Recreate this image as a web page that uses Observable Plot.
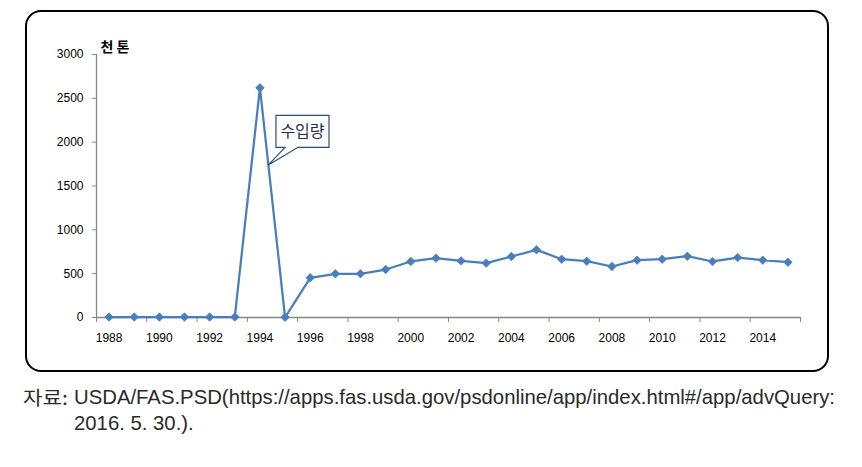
<!DOCTYPE html>
<html>
<head>
<meta charset="utf-8">
<script src="https://cdn.jsdelivr.net/npm/d3@7"></script>
<script src="https://cdn.jsdelivr.net/npm/@observablehq/plot@0.6"></script>
<style>
  html, body { margin: 0; padding: 0; background: #fff; }
  #wrap { position: relative; width: 862px; height: 467px; overflow: hidden; }
  #chart svg { display: block; }
  #frame { position: absolute; left: 25px; top: 10px; width: 800px; height: 358px;
           border: 2px solid #000; border-radius: 16px; pointer-events: none; }
  .cap { position: absolute; white-space: nowrap; transform-origin: 0 50%;
         font: 21px "Liberation Sans", "Noto Sans CJK KR", sans-serif; line-height: 26px; color: #2a2a2a; }
</style>
</head>
<body>
<div id="wrap">
  <div id="chart"></div>
  <div id="frame"></div>
  <div id="capLabel" class="cap" style="left:23px; top:384px; font-family:'Noto Sans CJK KR', sans-serif; font-size:19px;"></div>
  <div id="capLine1" class="cap" style="left:74px; top:384px;"></div>
  <div id="capLine2" class="cap" style="left:74px; top:410px;"></div>
</div>
<script>
const years = [1988,1989,1990,1991,1992,1993,1994,1995,1996,1997,1998,1999,2000,2001,2002,2003,2004,2005,2006,2007,2008,2009,2010,2011,2012,2013,2014,2015];
const imports = [5,5,5,5,5,5,2620,2,453,498,498,547,639,677,646,620,696,772,665,642,582,654,665,699,639,684,654,631];
const yTicks = [0,500,1000,1500,2000,2500,3000];
const xLabelYears = [1988,1990,1992,1994,1996,1998,2000,2002,2004,2006,2008,2010,2012,2014];
const unitLabel = "천 톤";
const seriesLabel = "수입량";
const captionLabel = "자료:";
const captionLine1 = "USDA/FAS.PSD(https://apps.fas.usda.gov/psdonline/app/index.html#/app/advQuery:";
const captionLine2 = "2016. 5. 30.).";

const data = years.map((y, i) => ({year: y, value: imports[i]}));
const xMin = years[0] - 0.5, xMax = years[years.length - 1] + 0.5;
const boundaries = d3.range(xMin, xMax + 0.01, 2);
const color = "#4a7ebb";
const axisGray = "#868686";

const plot = Plot.plot({
  width: 862,
  height: 380,
  marginLeft: 96,
  marginRight: 62,
  marginTop: 54,
  marginBottom: 63,
  style: {fontFamily: "'Liberation Sans', Arial, sans-serif", fontSize: "12px", color: "#000", background: "#fff"},
  x: {type: "linear", domain: [xMin, xMax]},
  y: {domain: [0, 3000]},
  marks: [
    Plot.ruleY([0], {stroke: axisGray, strokeWidth: 1.3}),
    Plot.ruleX([xMin], {stroke: axisGray, strokeWidth: 1.3}),
    Plot.axisY({ticks: yTicks, tickSize: 4, tickPadding: 9, tickFormat: d => String(d), stroke: axisGray, label: null, fill: "#000"}),
    Plot.axisX({ticks: boundaries, tickSize: 5, tickFormat: () => "", stroke: axisGray, label: null}),
    Plot.axisX({ticks: xLabelYears, tickSize: 0, tickPadding: 16, tickFormat: d => String(d), label: null, fill: "#000"}),
    Plot.text([unitLabel], {frameAnchor: "top-left", dx: 4, dy: -12, textAnchor: "start",
      fontWeight: "bold", fontSize: 14, fontFamily: "'Noto Sans CJK KR', sans-serif", fill: "#000"}),
    Plot.line(data, {x: "year", y: "value", stroke: color, strokeWidth: 2.25}),
    Plot.dot(data, {x: "year", y: "value", symbol: "diamond2", r: 3.8, fill: color, stroke: color, strokeWidth: 0.8})
  ]
});
document.getElementById("chart").appendChild(plot);

// Callout pointing at the segment after the 1994 peak
const xs = plot.scale("x"), ys = plot.scale("y");
const iPeak = imports.indexOf(d3.max(imports));
const t = 0.34;
const ax = xs.apply(years[iPeak] + t);
const ay = ys.apply(imports[iPeak] + t * (imports[iPeak + 1] - imports[iPeak]));
const bx0 = ax + 8, bx1 = ax + 61, by0 = ay - 50, by1 = ay - 18;
const svg = d3.select(plot);
const g = svg.append("g");
g.append("path")
  .attr("d", `M${bx0},${by0}H${bx1}V${by1}H${ax + 30}L${ax},${ay}L${ax + 17},${by1}H${bx0}Z`)
  .attr("fill", "#fff").attr("stroke", "#2c4d75").attr("stroke-width", 1.2);
g.append("text")
  .attr("x", (bx0 + bx1) / 2).attr("y", (by0 + by1) / 2).attr("dy", "0.35em")
  .attr("text-anchor", "middle")
  .attr("font-family", "'Noto Sans CJK KR', sans-serif").attr("font-size", 16)
  .attr("fill", "#1f3050")
  .text(seriesLabel);

// Caption (condensed to match the source's narrow typeface)
function fit(id, text, targetWidth) {
  const el = document.getElementById(id);
  el.textContent = text;
  const w = el.getBoundingClientRect().width;
  const s = targetWidth / w;
  el.style.transform = `scaleX(${s})`;
  return s;
}
const s1 = fit("capLine1", captionLine1, 761);
const el2 = document.getElementById("capLine2");
el2.textContent = captionLine2;
el2.style.transform = `scaleX(${s1})`;
fit("capLabel", captionLabel, 45);
</script>
</body>
</html>
